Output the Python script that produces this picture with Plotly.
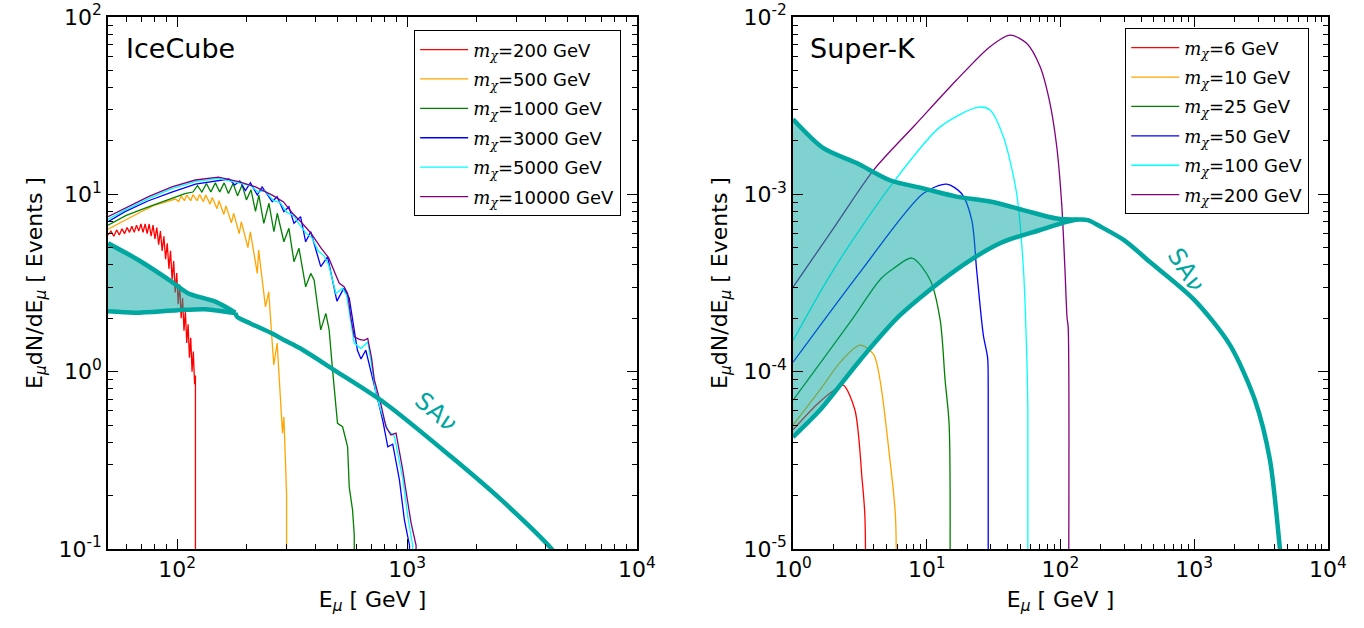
import plotly.graph_objects as go

# ---------------- IceCube panel (left) ----------------
masses_L = ["200", "500", "1000", "3000", "5000", "10000"]
colors = ["#ff0000", "#ffa500", "#008000", "#0000ff", "#00ffff", "#800080"]

E_red = [50, 51.5, 53, 54.5, 56, 57.5, 59, 60.5, 62, 63.5, 65, 66.5, 68, 69.5, 71, 72.5, 74, 75.5, 77, 78.5,
         80, 81.5, 83, 84.5, 86, 87.5, 89, 90.5, 92, 93.5, 95, 96.5, 98, 99.5, 101, 102.5, 104, 105.5, 107, 108.5,
         110, 111.5, 113, 114.5, 116, 117.5, 119, 120, 120]
V_red = [5.9, 6.2, 5.8, 6.3, 5.9, 6.4, 6.0, 6.5, 6.1, 6.6, 6.1, 6.7, 6.2, 6.8, 6.1, 6.8, 6.0, 6.8, 5.8, 6.7,
         5.6, 6.5, 5.2, 6.2, 4.8, 5.8, 4.3, 5.3, 3.8, 4.8, 3.3, 4.2, 2.8, 3.6, 2.4, 3.1, 2.0, 2.6, 1.7, 2.2,
         1.45, 1.85, 1.2, 1.55, 1.0, 1.3, 0.85, 0.95, 0.01]

E_orange = [50, 55, 60, 65, 70, 75, 80, 85, 90, 95, 98, 101.5, 104, 107.5, 110, 114.5, 117, 122, 125, 130,
            133, 139, 142, 149, 152, 159.5, 163, 172, 176, 186, 190, 203, 208, 223, 226, 242, 250, 263, 272, 287,
            291, 296, 299, 299]
V_orange = [6.35, 6.8, 7.2, 7.6, 8.0, 8.35, 8.7, 8.9, 9.1, 9.3, 9.4, 9.1, 9.8, 9.2, 9.9, 9.2, 9.95, 9.2, 9.95, 9.1,
            9.9, 8.8, 9.6, 8.3, 9.2, 7.7, 8.6, 6.9, 7.8, 6.0, 7.0, 5.0, 6.15, 3.58, 4.85, 2.32, 2.82, 1.09, 1.45, 0.45,
            0.557, 0.3, 0.2, 0.01]

E_green = [50, 60, 75, 95, 108, 117, 122.5, 128, 134, 140, 146.5, 153, 160, 167, 175, 183, 191.5, 200, 209.5, 219,
           226.5, 238, 250.6, 263.4, 272.4, 291, 306, 322, 338.6, 362, 381, 394, 421, 443, 458, 474, 498, 524, 551,
           560, 579, 589, 589]
V_green = [6.7, 7.6, 8.5, 9.5, 10.1, 10.3, 11.2, 10.3, 11.5, 10.3, 11.6, 10.3, 11.6, 10.1, 11.5, 9.8, 11.3, 9.3, 10.6, 8.0,
           9.9, 6.86, 8.9, 6.15, 7.82, 5.4, 6.43, 4.17, 4.96, 3.01, 3.58, 3.29, 1.72, 2.13, 1.72, 1.02, 0.511, 0.489, 0.377,
           0.224, 0.166, 0.12, 0.01]

E_blue = [50, 59.3, 75, 94.8, 120, 151, 168, 178, 187, 198, 208, 223, 234, 259, 272, 291, 306, 322, 344, 362,
          381, 421, 451, 495, 530, 560, 585, 608, 630, 661, 690, 732, 783, 824, 866, 926, 973, 1024, 1030]
V_blue = [7.0, 7.98, 9.2, 10.3, 11.4, 12.0, 12.2, 11.3, 11.9, 10.5, 11.6, 9.9, 11.0, 9.08, 9.7, 7.98, 8.5, 6.86, 7.48, 5.4,
          6.15, 3.91, 4.44, 2.5, 2.95, 2.6, 1.8, 1.32, 1.18, 1.32, 1.05, 0.754, 0.533, 0.377, 0.39, 0.245, 0.146, 0.105, 0.01]

E_cyan = [50, 59.3, 75, 94.8, 120, 151, 185, 208, 225, 240, 262, 280, 300, 320, 342, 365, 385, 410, 435, 456,
          490, 524, 545, 589, 630, 674, 700, 732, 770, 824, 881, 920, 957, 1009, 1057, 1062]
V_cyan = [7.23, 8.15, 9.45, 10.75, 11.8, 12.3, 11.6, 11.2, 10.3, 10.5, 9.2, 9.0, 7.9, 7.6, 6.7, 6.0, 5.7, 4.8, 4.5, 4.0,
          2.76, 2.95, 2.7, 1.45, 1.35, 1.47, 1.1, 0.75, 0.60, 0.469, 0.43, 0.33, 0.25, 0.15, 0.105, 0.01]

E_purple = [50, 59.3, 75, 94.8, 119.8, 151, 185, 219, 259, 290, 317, 345, 381, 421, 456, 490, 507, 532, 551, 570,
            589, 620, 650, 674, 700, 720, 770, 809, 850, 895, 957, 1009, 1041, 1094, 1100]
V_purple = [7.48, 8.34, 9.7, 11.0, 12.04, 12.5, 11.8, 11.0, 9.9, 9.06, 7.82, 7.0, 6.05, 5.0, 4.38, 3.5, 3.15, 3.01, 2.76, 2.0,
            1.57, 1.52, 1.5, 1.54, 1.2, 0.9, 0.65, 0.489, 0.44, 0.45, 0.279, 0.18, 0.14, 0.105, 0.01]

# SA-nu band, IceCube
E_sa_up_L = [50, 67.8, 94.8, 112, 146.5, 179]
V_sa_up_L = [5.29, 4.26, 3.21, 2.76, 2.48, 2.15]
E_sa_lo_L = [50, 65.5, 100, 132, 176, 179]
V_sa_lo_L = [2.19, 2.15, 2.22, 2.25, 2.15, 2.15]
E_sa_tail_L = [179, 182, 208, 259, 291, 344, 482, 796, 1556, 2570, 4254, 5000]
V_sa_tail_L = [2.15, 2.04, 1.87, 1.64, 1.51, 1.35, 1.02, 0.668, 0.331, 0.189, 0.1, 0.075]

# ---------------- Super-K panel (right) ----------------
masses_R = ["6", "10", "25", "50", "100", "200"]

E_r6 = [1, 1.5, 2.0, 2.37, 2.9, 3.28, 3.45, 3.45]
V_r6 = [4.7e-5, 6.5e-5, 7.8e-5, 8.4e-5, 6.1e-5, 2.5e-5, 1.5e-5, 1e-6]

E_r10 = [1, 1.59, 2.3, 3.17, 4.0, 4.47, 5.3, 5.84, 5.84]
V_r10 = [5.0e-5, 7.9e-5, 1.15e-4, 1.41e-4, 1.25e-4, 9e-5, 3.2e-5, 1.5e-5, 1e-6]

E_r25 = [1, 2.67, 4.47, 5.6, 7.76, 10.6, 12.6, 13.7, 14.7, 14.7]
V_r25 = [6.9e-5, 1.9e-4, 3.3e-4, 3.8e-4, 4.37e-4, 3.29e-4, 1.95e-4, 9e-5, 5e-5, 1e-6]

E_r50 = [1, 3.26, 9.4, 14.1, 18.2, 21.7, 23.6, 26.5, 28.5, 28.8, 28.8]
V_r50 = [1.13e-4, 3.74e-4, 1.01e-3, 1.14e-3, 1.01e-3, 7.16e-4, 3.74e-4, 1.6e-4, 1.2e-4, 8e-5, 1e-6]

E_r100 = [1, 2.0, 5.3, 12.6, 24.3, 29.7, 37.4, 47, 52.7, 55.5, 57, 57]
V_r100 = [1.5e-4, 3.74e-4, 1.1e-3, 2.4e-3, 3.1e-3, 2.99e-3, 2.11e-3, 1.01e-3, 3.9e-4, 1.5e-4, 6e-5, 1e-6]

E_r200 = [1, 2, 4.0, 8.17, 16.7, 29.7, 41.9, 55.8, 70.3, 83.4, 93.7, 102, 108, 112, 114, 114]
V_r200 = [3.0e-4, 6.4e-4, 1.37e-3, 2.46e-3, 4.41e-3, 6.8e-3, 7.9e-3, 7.1e-3, 5.25e-3, 3.26e-3, 1.86e-3, 8.9e-4,
          3.74e-4, 2.0e-4, 1.8e-4, 1e-6]

E_sa_up_R = [1, 1.685, 2.99, 5.3, 9.4, 16.7, 29.7, 52.7, 93.7, 135]
V_sa_up_R = [2.65e-3, 1.82e-3, 1.5e-3, 1.2e-3, 1.08e-3, 9.7e-4, 9.1e-4, 8.15e-4, 7.3e-4, 7.2e-4]
E_sa_lo_R = [1, 1.59, 3.17, 6.31, 16.5, 35.3, 70.3, 111, 135]
V_sa_lo_R = [4.28e-5, 6.07e-5, 1.16e-4, 2.08e-4, 3.74e-4, 5.3e-4, 6.29e-4, 7.0e-4, 7.2e-4]
E_sa_tail_R = [135, 160, 197, 300, 467, 1000, 1852, 2845, 3683, 4375, 4800]
V_sa_tail_R = [7.2e-4, 7.15e-4, 6.6e-4, 5.5e-4, 4.15e-4, 2.54e-4, 1.41e-4, 6.9e-5, 3.17e-5, 1e-5, 5e-6]

# ticks
xt_L = [100, 1000, 10000]
xt_L_text = ["10<sup>2</sup>", "10<sup>3</sup>", "10<sup>4</sup>"]
yt_L = [0.1, 1, 10, 100]
yt_L_text = ["10<sup>-1</sup>", "10<sup>0</sup>", "10<sup>1</sup>", "10<sup>2</sup>"]
xt_R = [1, 10, 100, 1000, 10000]
xt_R_text = ["10<sup>0</sup>", "10<sup>1</sup>", "10<sup>2</sup>", "10<sup>3</sup>", "10<sup>4</sup>"]
yt_R = [1e-5, 1e-4, 1e-3, 1e-2]
yt_R_text = ["10<sup>-5</sup>", "10<sup>-4</sup>", "10<sup>-3</sup>", "10<sup>-2</sup>"]

TEAL = "rgb(0,166,160)"
FILL = "rgba(0,166,160,0.5)"
FONT = "DejaVu Sans"


def label(m):
    return ('<span style="font-family:\'DejaVu Serif\'"><i>m</i><sub><i>χ</i></sub></span>=' + m + ' GeV')


fig = go.Figure()

left_curves = [(E_red, V_red), (E_orange, V_orange), (E_green, V_green),
               (E_blue, V_blue), (E_cyan, V_cyan), (E_purple, V_purple)]
for i, ((ex, vy), m) in enumerate(zip(left_curves, masses_L)):
    fig.add_trace(go.Scatter(x=ex, y=vy, mode="lines", line=dict(color=colors[i], width=1.3),
                             name=label(m), legend="legend", legendgroup="L" + str(i),
                             xaxis="x", yaxis="y"))

right_curves = [(E_r6, V_r6), (E_r10, V_r10), (E_r25, V_r25),
                (E_r50, V_r50), (E_r100, V_r100), (E_r200, V_r200)]
for i, ((ex, vy), m) in enumerate(zip(right_curves, masses_R)):
    fig.add_trace(go.Scatter(x=ex, y=vy, mode="lines",
                             line=dict(color=colors[i], width=1.3, shape="spline", smoothing=0.8),
                             name=label(m), legend="legend2", legendgroup="R" + str(i),
                             xaxis="x2", yaxis="y2"))

SPL = dict(color=TEAL, width=4.5, shape="spline", smoothing=0.8)

# bands
for (eu, vu, el, vl, xa, ya) in [(E_sa_up_L, V_sa_up_L, E_sa_lo_L, V_sa_lo_L, "x", "y"),
                                  (E_sa_up_R, V_sa_up_R, E_sa_lo_R, V_sa_lo_R, "x2", "y2")]:
    fig.add_trace(go.Scatter(x=eu + el[::-1], y=vu + vl[::-1], mode="lines", fill="toself",
                             fillcolor=FILL, line=dict(width=0), showlegend=False,
                             xaxis=xa, yaxis=ya, hoverinfo="skip"))
    fig.add_trace(go.Scatter(x=eu, y=vu, mode="lines", line=SPL,
                             showlegend=False, xaxis=xa, yaxis=ya))
    fig.add_trace(go.Scatter(x=el, y=vl, mode="lines", line=SPL,
                             showlegend=False, xaxis=xa, yaxis=ya))

fig.add_trace(go.Scatter(x=E_sa_tail_L, y=V_sa_tail_L, mode="lines", line=SPL,
                         showlegend=False, xaxis="x", yaxis="y"))
fig.add_trace(go.Scatter(x=E_sa_tail_R, y=V_sa_tail_R, mode="lines", line=SPL,
                         showlegend=False, xaxis="x2", yaxis="y2"))


def minor_vals(lo, hi):
    out = []
    for d in range(lo, hi):
        for k in range(2, 10):
            out.append(k * 10 ** d)
    return out


def axis(domain, rng, tv, tt, minv, title, anchor):
    return dict(type="log", domain=domain, range=rng, tickvals=tv, ticktext=tt,
                ticks="inside", ticklen=10, tickwidth=1.2, tickcolor="black",
                showline=True, linecolor="black", linewidth=1.5, mirror="allticks",
                showgrid=False, zeroline=False, anchor=anchor,
                tickfont=dict(family=FONT, size=22, color="black"),
                minor=dict(tickvals=minv, ticks="inside", ticklen=5, tickwidth=1, tickcolor="black", showgrid=False),
                title=dict(text=title, font=dict(family=FONT, size=22, color="black"), standoff=10),
                automargin=False)


xL = [0.0792, 0.467]
xR = [0.5814, 0.9736]
yD = [0.1258, 0.973]

xtitle = "E<sub><i>μ</i></sub> [ GeV ]"
ytitle = "E<sub><i>μ</i></sub>dN/dE<sub><i>μ</i></sub> [ Events ]"

fig.update_layout(
    width=1364, height=628,
    margin=dict(l=0, r=0, t=0, b=0),
    paper_bgcolor="white", plot_bgcolor="white",
    font=dict(family=FONT, color="black"),
    xaxis=axis(xL, [1.69897, 4], xt_L, xt_L_text, [60, 70, 80, 90] + minor_vals(2, 4), xtitle, "y"),
    yaxis=axis(yD, [-1, 2], yt_L, yt_L_text, minor_vals(-1, 2), ytitle, "x"),
    xaxis2=axis(xR, [0, 4], xt_R, xt_R_text, minor_vals(0, 4), xtitle, "y2"),
    yaxis2=axis(yD, [-5, -2], yt_R, yt_R_text, minor_vals(-5, -2), ytitle, "x2"),
    legend=dict(x=0.3035, y=0.952, xanchor="left", yanchor="top", bgcolor="white",
                bordercolor="black", borderwidth=1.2, font=dict(family=FONT, size=18, color="black"),
                tracegroupgap=3, itemwidth=48),
    legend2=dict(x=0.8248, y=0.955, xanchor="left", yanchor="top", bgcolor="white",
                 bordercolor="black", borderwidth=1.2, font=dict(family=FONT, size=18, color="black"),
                 tracegroupgap=3, itemwidth=48),
    showlegend=True,
)

fig.add_annotation(text="IceCube", xref="x domain", yref="y domain", x=0.03, y=0.94,
                   xanchor="left", yanchor="middle", showarrow=False,
                   font=dict(family=FONT, size=27, color="black"))
fig.add_annotation(text="Super-K", xref="x2 domain", yref="y2 domain", x=0.028, y=0.94,
                   xanchor="left", yanchor="middle", showarrow=False,
                   font=dict(family=FONT, size=27, color="black"))
fig.add_annotation(text="SA<i>ν</i>", xref="paper", yref="paper", x=436 / 1364, y=1 - 412 / 628,
                   xanchor="center", yanchor="middle", showarrow=False, textangle=40,
                   font=dict(family=FONT, size=24, color=TEAL))
fig.add_annotation(text="SA<i>ν</i>", xref="paper", yref="paper", x=1186 / 1364, y=1 - 270 / 628,
                   xanchor="center", yanchor="middle", showarrow=False, textangle=57,
                   font=dict(family=FONT, size=24, color=TEAL))

fig.write_html("out.html")
